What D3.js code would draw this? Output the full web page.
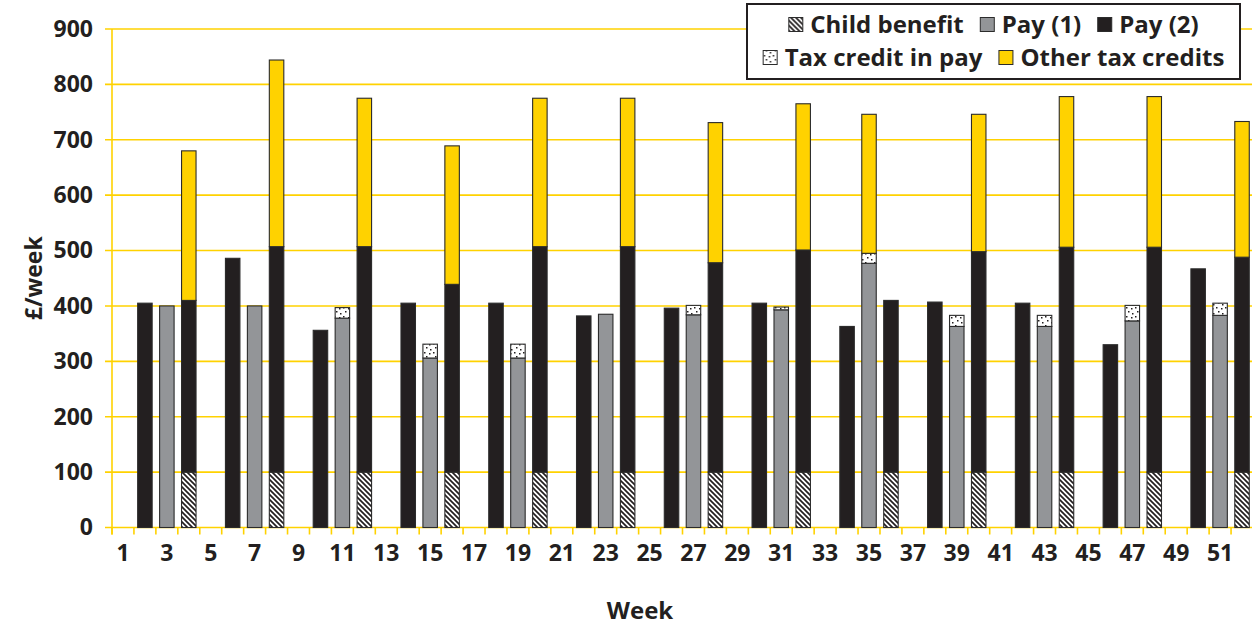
<!DOCTYPE html>
<html>
<head>
<meta charset="utf-8">
<script src="https://cdn.jsdelivr.net/npm/d3@7"></script>
<style>
  html, body { margin: 0; padding: 0; background: #fff; }
  svg { display: block; }
  text { font-family: "Open Sans", "Noto Sans", sans-serif; font-weight: 700; fill: #231f20; }
</style>
</head>
<body>
<svg id="chart" width="1252" height="625"></svg>
<script>
// ---- data ----
const weeks = [1,2,3,4,5,6,7,8,9,10,11,12,13,14,15,16,17,18,19,20,21,22,23,24,25,26,
  27,28,29,30,31,32,33,34,35,36,37,38,39,40,41,42,43,44,45,46,47,48,49,50,51,52];
const childBenefit = [
  0,0,0,100, 0,0,0,100, 0,0,0,100, 0,0,0,100, 0,0,0,100, 0,0,0,100, 0,0,0,100,
  0,0,0,100, 0,0,0,100, 0,0,0,100, 0,0,0,100, 0,0,0,100, 0,0,0,100];
const pay1 = [
  0,0,400,0, 0,0,400,0, 0,0,378,0, 0,0,306,0, 0,0,306,0, 0,0,385,0, 0,0,384,0,
  0,0,393,0, 0,0,477,0, 0,0,363,0, 0,0,363,0, 0,0,373,0, 0,0,383,0];
const pay2 = [
  0,405,0,310, 0,486,0,407, 0,356,0,407, 0,405,0,339, 0,405,0,407, 0,382,0,407, 0,396,0,378,
  0,405,0,401, 0,363,0,310, 0,407,0,398, 0,405,0,406, 0,330,0,406, 0,467,0,388];
const taxCreditInPay = [
  0,0,0,0, 0,0,0,0, 0,0,19,0, 0,0,25,0, 0,0,25,0, 0,0,0,0, 0,0,17,0,
  0,0,5,0, 0,0,18,0, 0,0,20,0, 0,0,20,0, 0,0,28,0, 0,0,22,0];
const otherTaxCredits = [
  0,0,0,270, 0,0,0,337, 0,0,0,268, 0,0,0,250, 0,0,0,268, 0,0,0,268, 0,0,0,253,
  0,0,0,264, 0,0,251,0, 0,0,0,248, 0,0,0,272, 0,0,0,272, 0,0,0,245];
const seriesNames = ["Child benefit", "Pay (1)", "Pay (2)", "Tax credit in pay", "Other tax credits"];
const yTicks = [0,100,200,300,400,500,600,700,800,900];
const xTickLabels = weeks.filter(w => w % 2 === 1);

// ---- setup ----
const svg = d3.select("#chart");
const W = 1252, H = 625;
const margin = {left: 112, right: -1, top: 29, bottom: 97.5};
const YELLOW = "#ffd200", BLACK = "#231f20", GREY = "#939598";

const defs = svg.append("defs");
// hatch pattern (\\\\)
const hatch = defs.append("pattern").attr("id", "hatch")
  .attr("patternUnits", "userSpaceOnUse").attr("width", 5).attr("height", 5);
hatch.append("rect").attr("width", 5).attr("height", 5).attr("fill", "#fff");
hatch.append("path").attr("d", "M-1,-1 L6,6 M-1,4 L1,6 M4,-1 L6,1")
  .attr("stroke", BLACK).attr("stroke-width", 1.7);
// dotted pattern
const dots = defs.append("pattern").attr("id", "dots")
  .attr("patternUnits", "userSpaceOnUse").attr("width", 9).attr("height", 9);
dots.append("rect").attr("width", 9).attr("height", 9).attr("fill", "#fff");
[[1,1],[6,2],[3,5],[7,7]].forEach(([x,y]) =>
  dots.append("rect").attr("x", x).attr("y", y).attr("width", 1.5).attr("height", 1.5).attr("fill", BLACK));

const fills = ["url(#hatch)", GREY, BLACK, "url(#dots)", YELLOW];

const x = d3.scaleBand().domain(weeks)
  .range([margin.left, W - margin.right])
  .paddingInner(0.34).paddingOuter(0.17);
const y = d3.scaleLinear().domain([0, 900]).range([H - margin.bottom, margin.top]);

// gridlines
svg.append("g").selectAll("line").data(yTicks).join("line")
  .attr("x1", margin.left - 7).attr("x2", W)
  .attr("y1", d => y(d)).attr("y2", d => y(d))
  .attr("stroke", YELLOW).attr("stroke-width", 1.6);

// y axis
const yAxis = svg.append("g").attr("transform", `translate(${margin.left},0)`)
  .call(d3.axisLeft(y).tickValues(yTicks).tickSize(0).tickPadding(19));
yAxis.select(".domain").attr("stroke", YELLOW).attr("stroke-width", 1.6)
  .attr("d", `M0,${y(0) + 7}V${y(900)}`);
yAxis.selectAll("text").style("font-size", "23px").attr("fill", BLACK);

// x axis ticks at band boundaries
const step = x.step();
const boundaries = weeks.map(w => x(w) - (step - x.bandwidth()) / 2);
svg.append("g").selectAll("line").data(boundaries).join("line")
  .attr("x1", d => d).attr("x2", d => d)
  .attr("y1", y(0)).attr("y2", y(0) + 7)
  .attr("stroke", YELLOW).attr("stroke-width", 1.6);
// x tick labels
const xAxis = svg.append("g").attr("transform", `translate(0,${y(0)})`)
  .call(d3.axisBottom(x).tickValues(xTickLabels).tickSize(0).tickPadding(17));
xAxis.select(".domain").remove();
xAxis.selectAll("text").style("font-size", "23px").attr("fill", BLACK);

// stacked bars
const table = weeks.map((w, i) => ({
  week: w,
  "Child benefit": childBenefit[i],
  "Pay (1)": pay1[i],
  "Pay (2)": pay2[i],
  "Tax credit in pay": taxCreditInPay[i],
  "Other tax credits": otherTaxCredits[i]
}));
const stacked = d3.stack().keys(seriesNames)(table);
const barG = svg.append("g");
stacked.forEach((layer, li) => {
  barG.append("g").selectAll("rect")
    .data(layer.filter(d => d[1] - d[0] > 0))
    .join("rect")
    .attr("x", d => x(d.data.week))
    .attr("width", x.bandwidth())
    .attr("y", d => y(d[1]))
    .attr("height", d => y(d[0]) - y(d[1]))
    .attr("fill", fills[li])
    .attr("stroke", "#2b2b2b")
    .attr("stroke-width", 1.1);
});

// axis titles
svg.append("text").attr("x", 640).attr("y", 619).attr("text-anchor", "middle")
  .style("font-size", "24px").text("Week");
svg.append("text").attr("transform", `translate(34,${(y(0) + y(900)) / 2}) rotate(-90)`)
  .attr("text-anchor", "middle").attr("dy", "0.35em")
  .style("font-size", "23px").text("£/week");

// legend
const lg = svg.append("g");
lg.append("rect").attr("x", 747).attr("y", 4).attr("width", 493).attr("height", 75)
  .attr("fill", "#fff").attr("stroke", "#231f20").attr("stroke-width", 2);
const rows = [[0, 1, 2], [3, 4]];
const baselines = [33, 66];
const sw = 15, gapSwText = 7, gapItem = 16;
rows.forEach((row, ri) => {
  const rg = lg.append("g");
  let cx = 0;
  row.forEach(si => {
    rg.append("rect").attr("x", cx + 0.5).attr("y", baselines[ri] - sw - 0.5)
      .attr("width", sw - 1).attr("height", sw - 1)
      .attr("fill", fills[si]).attr("stroke", "#2b2b2b").attr("stroke-width", 1);
    cx += sw + gapSwText;
    const t = rg.append("text").attr("x", cx).attr("y", baselines[ri])
      .style("font-size", "24px").text(seriesNames[si]);
    cx += t.node().getComputedTextLength() + gapItem;
  });
  const total = cx - gapItem;
  rg.attr("transform", `translate(${993.5 - total / 2},0)`);
});
</script>
</body>
</html>
